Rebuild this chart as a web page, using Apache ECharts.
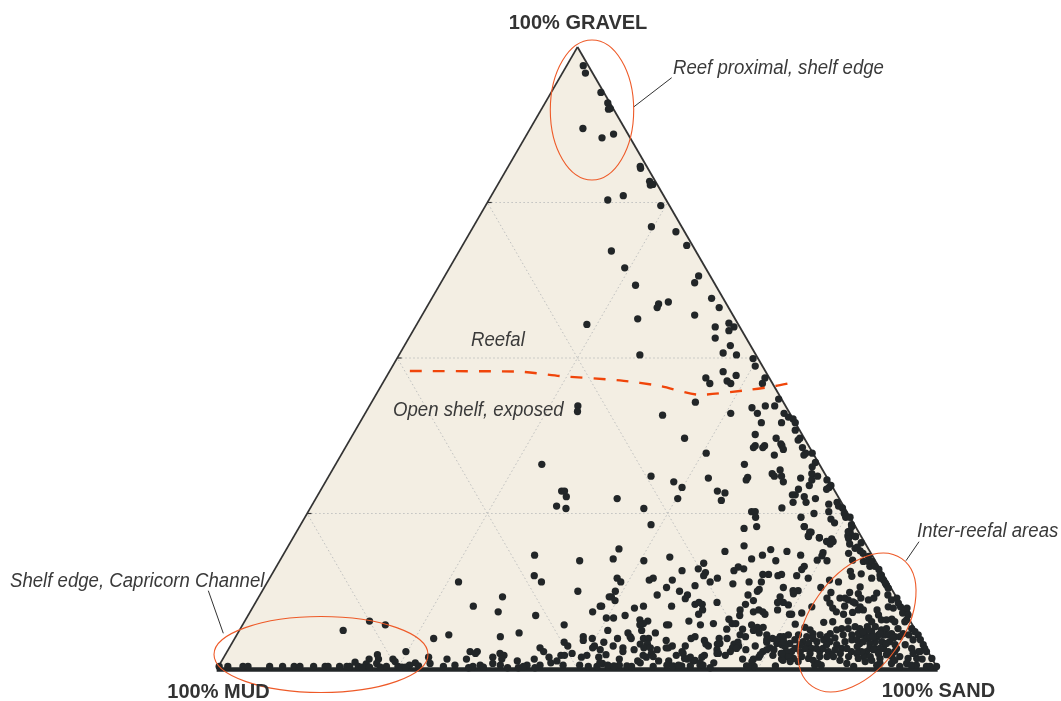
<!DOCTYPE html>
<html>
<head>
<meta charset="utf-8">
<style>html,body{margin:0;padding:0;background:#fff}#chart{width:1061px;height:701px}</style>
<script src="https://cdn.jsdelivr.net/npm/echarts@6/dist/echarts.min.js"></script>
</head>
<body>
<div id="chart"></div>
<script>
// Each sample is [gravel %, sand %]; mud % is the remainder.
const upperSamples = [[97.0,2.3],[95.8,3.2],[92.7,6.9],[91.0,8.7],[90.0,9.3],[90.1,9.5],[86.9,7.3],[85.4,10.7],[86.0,12.0],[80.8,18.3],[80.5,18.5],[78.4,20.8],[77.8,21.2],[77.9,21.5],[76.1,18.3],[75.4,16.5],[74.5,24.3],[71.1,24.7],[70.3,28.5],[68.1,31.1],[67.2,21.1],[64.5,24.3],[63.2,35.2],[62.1,35.2],[61.7,27.2],[59.6,38.8],[59.0,33.1],[58.7,31.9],[58.1,32.0],[58.1,40.6],[56.9,37.8],[56.3,30.2],[55.6,43.2],[55.4,23.6],[55.0,41.6],[55.0,44.2],[54.4,43.8],[53.2,42.5],[52.0,45.2],[50.8,44.8],[50.5,46.8],[50.5,33.4],[49.9,49.4],[48.7,50.3],[47.8,46.3],[47.2,48.4],[46.8,44.4],[46.8,52.6],[45.9,45.4],[46.3,47.6],[45.9,48.3],[45.9,52.7]];
const middleSamples = [[43.4,56.2],[42.9,44.9],[40.8,41.4],[42.3,28.9],[41.4,29.3],[41.1,50.7],[42.0,53.2],[41.1,54.4],[39.6,55.7],[42.3,54.9],[42.3,56.2],[39.6,58.5],[41.1,58.1],[40.5,59.0],[40.2,59.8],[39.6,60.4],[38.4,61.0],[37.7,55.8],[37.1,59.0],[37.1,62.3],[36.8,62.2],[37.1,46.3],[36.2,60.1],[35.9,60.4],[35.3,60.9],[35.6,63.4],[35.9,56.7],[35.6,56.6],[35.9,58.0],[35.6,57.9],[34.4,60.1],[34.7,50.5],[34.7,65.2],[34.7,64.3],[34.4,64.2],[32.9,56.7],[33.2,66.4],[32.5,66.3],[32.0,62.1],[31.4,66.8],[31.0,67.8],[31.4,61.3],[31.0,61.8],[31.0,62.8],[30.7,65.6],[30.4,67.3],[30.8,58.2],[30.4,58.2],[30.7,52.8],[30.1,48.3],[30.1,63.5],[30.4,69.4],[29.5,67.4],[29.5,70.4],[29.2,70.3],[28.9,70.1],[29.2,49.9],[28.9,66.2],[28.6,55.1],[28.3,56.3],[28.0,66.2],[28.0,65.8],[27.7,67.6],[27.4,69.3],[27.4,50.2],[27.1,56.4],[26.8,66.5],[26.8,68.3],[26.5,71.6],[26.8,72.6],[26.2,73.1],[25.9,73.8],[25.9,65.4],[25.3,61.5],[25.3,62.0],[25.3,72.2],[25.0,70.3],[25.0,74.5],[24.4,75.0],[24.4,75.6],[24.4,62.5],[24.4,68.8],[24.1,73.1],[23.5,73.9],[23.2,76.4],[22.9,70.0],[22.9,63.4],[22.6,61.8],[22.2,76.7],[22.0,71.2],[21.4,71.3],[21.1,73.0],[21.4,76.8],[21.5,77.2],[21.3,77.9],[20.9,74.8],[31.0,44.7],[32.9,28.6],[28.6,33.5],[28.6,33.9],[27.7,34.6],[26.2,34.0],[25.8,35.5],[27.4,41.8],[25.8,46.3],[23.2,48.6],[19.3,46.1]];
const lowerMudSamples = [[18.3,34.9],[17.4,41.6],[14.0,26.5],[15.0,36.5],[14.0,38.0],[12.5,43.8],[11.6,33.8],[10.1,30.5],[9.2,34.4],[10.1,48.1],[9.2,47.5],[8.6,39.9],[8.2,49.9],[11.6,48.6],[7.1,44.6],[6.2,51.1],[5.8,39.0],[5.5,29.4],[4.9,27.6],[5.2,36.7],[5.2,48.2],[4.6,48.5],[4.9,49.6],[4.3,51.5],[4.3,46.0],[3.7,46.8],[3.4,43.1],[2.8,43.9],[3.7,50.5],[3.4,50.4],[3.1,51.6],[2.8,33.7],[2.8,34.7],[2.5,34.6],[2.5,38.0],[2.2,38.7],[2.5,48.0],[2.2,46.6],[2.2,47.1],[2.2,50.2],[1.9,49.6],[1.9,52.0],[2.3,52.8],[1.9,28.4],[1.6,31.1],[1.6,33.8],[1.9,37.3],[1.6,38.7],[1.9,45.1],[1.3,41.0],[1.6,43.2],[1.3,46.5],[1.0,45.8],[0.9,29.1],[0.6,32.7],[0.9,37.8],[0.6,39.0],[0.6,42.7],[0.6,44.5],[0.6,47.7],[0.6,50.0],[0.9,53.0],[0.4,31.2],[0.2,34.8],[0.4,35.3],[0.6,36.2],[0.3,36.8],[0.2,40.2],[0.2,41.7],[0.4,42.3],[0.2,44.0],[0.4,51.3],[0.4,52.5],[0.5,54.0]];
const lowerSandSamples = [[17.7,46.1],[17.4,50.5],[18.0,53.8],[18.9,61.0],[19.8,63.2],[19.2,67.2],[18.3,66.5],[18.9,69.6],[17.7,65.3],[17.4,68.8],[17.0,59.0],[16.4,64.1],[15.8,63.8],[16.1,65.0],[16.1,58.7],[15.8,56.6],[15.5,60.0],[15.0,60.0],[15.2,68.1],[15.2,68.9],[15.2,70.7],[15.0,70.3],[14.6,62.1],[14.6,48.2],[14.6,53.2],[14.3,52.8],[14.3,56.0],[14.0,49.0],[14.0,61.4],[13.7,64.7],[14.0,66.8],[14.0,68.5],[13.4,59.6],[13.1,55.8],[13.1,72.0],[12.5,49.0],[12.5,57.9],[12.8,68.8],[12.5,68.7],[11.9,67.7],[11.9,59.3],[11.9,55.1],[11.6,48.9],[11.3,59.3],[11.6,72.3],[11.0,49.7],[11.0,68.9],[10.7,72.4],[10.7,73.2],[10.4,61.1],[10.7,61.5],[10.4,62.1],[10.7,64.0],[10.4,68.1],[10.1,48.3],[10.1,54.1],[9.8,53.0],[10.1,58.0],[9.5,67.8],[9.5,73.0],[9.5,62.6],[8.8,62.4],[9.2,69.8],[9.5,70.4],[9.2,71.1],[8.8,71.6],[8.6,68.2],[8.8,75.0],[8.6,52.3],[8.2,50.9],[7.9,54.7],[7.7,55.9],[7.7,61.6],[8.0,67.0],[7.3,67.8],[7.3,68.3],[7.3,55.5],[7.1,55.1],[7.3,65.2],[7.1,58.8],[7.1,59.1],[7.1,63.5],[7.1,70.6],[6.7,71.6],[6.7,72.4],[6.4,67.5],[6.4,69.7],[6.2,71.3],[5.8,72.3],[6.2,55.8],[5.8,57.9],[5.8,54.1],[5.5,69.8],[5.2,70.7],[5.5,73.5],[5.2,54.7],[4.9,55.0],[4.9,53.1],[4.9,56.7],[4.9,57.4],[5.2,63.7],[4.9,63.3],[4.9,68.3],[4.9,67.2],[4.9,74.6],[5.2,75.5],[4.6,60.0],[4.6,65.3],[4.0,56.7],[4.0,57.7],[3.7,61.3],[3.4,60.9],[3.7,63.1],[4.0,65.8],[3.7,66.3],[4.0,67.4],[4.3,70.1],[4.0,69.7],[3.4,69.8],[3.7,72.8],[4.3,74.1],[3.4,75.0],[4.3,76.0],[3.7,53.1],[3.4,54.6],[3.1,56.3],[3.4,57.5],[3.4,58.4],[3.1,59.5],[3.4,60.6],[2.8,63.1],[3.1,67.8],[3.1,71.8],[3.7,70.5],[2.8,54.9],[2.5,59.0],[2.2,62.6],[2.5,63.4],[2.2,66.5],[2.5,68.1],[2.2,69.4],[2.8,69.8],[2.8,74.3],[1.9,74.2],[3.1,75.7],[2.5,77.0],[1.9,58.6],[1.6,55.0],[1.3,60.6],[1.6,64.4],[1.9,66.3],[1.6,72.1],[1.6,73.6],[1.6,77.5],[1.3,57.7],[1.0,58.2],[1.0,68.4],[1.3,62.0],[1.3,65.4],[1.0,52.6],[0.6,53.9],[0.6,55.5],[0.5,56.6],[0.6,62.1],[0.5,63.0],[0.5,64.2],[0.5,65.4],[0.6,66.7],[0.2,68.3],[0.5,73.2],[0.4,74.3],[0.5,77.2],[0.4,60.3],[0.4,57.3],[0.5,54.8],[1.9,64.7],[1.4,65.6],[1.0,66.5],[1.7,64.0],[0.6,67.1],[4.7,73.9],[4.1,75.6],[4.7,75.3],[3.9,76.4],[3.1,74.7],[2.2,76.0],[2.5,77.5],[4.1,67.7],[2.5,68.3],[3.3,70.4],[2.0,59.5],[2.2,58.0],[2.3,74.2],[1.2,73.6],[0.4,73.5],[2.0,78.0],[0.6,63.7]];
const interReefalSamples = [[22.9,70.0],[22.0,71.4],[21.3,71.4],[21.1,73.0],[20.5,74.3],[20.5,75.2],[20.1,75.0],[21.0,77.1],[20.1,77.7],[20.3,79.2],[19.4,78.8],[19.0,79.7],[18.6,80.3],[18.6,78.3],[18.3,71.8],[18.7,74.7],[18.2,74.8],[17.5,74.5],[17.4,75.9],[16.5,73.2],[16.0,73.1],[17.5,79.4],[17.3,81.0],[17.3,81.7],[16.5,82.3],[15.7,80.0],[14.9,80.6],[15.3,81.7],[16.0,83.8],[15.1,84.6],[14.6,84.7],[14.6,83.5],[14.0,79.2],[14.3,77.8],[14.6,74.7],[15.0,72.9],[13.1,77.2],[12.6,73.6],[12.6,74.3],[12.1,73.9],[10.3,74.1],[12.3,79.0],[11.4,78.9],[10.6,79.7],[9.8,80.5],[9.2,81.3],[11.4,80.7],[11.4,81.4],[12.3,81.6],[11.1,82.0],[10.8,82.8],[13.2,82.6],[12.1,82.9],[11.4,83.6],[10.6,83.2],[10.0,84.2],[9.5,84.2],[9.1,83.6],[10.1,82.0],[11.1,84.8],[12.2,85.4],[11.4,85.4],[11.9,87.1],[11.1,88.0],[11.4,88.6],[10.0,89.8],[10.0,88.1],[10.0,77.5],[9.0,76.6],[8.8,75.3],[8.8,82.5],[9.5,86.8],[8.7,87.4],[8.0,89.6],[8.2,86.3],[7.6,87.0],[7.5,80.4],[7.6,81.6],[7.7,83.7],[7.2,76.6],[6.7,78.2],[6.5,83.4],[6.3,82.8],[5.7,82.2],[6.8,85.1],[6.5,85.9],[5.5,85.3],[6.8,86.8],[5.5,87.1],[6.0,87.8],[6.3,89.0],[6.5,89.6],[5.7,90.7],[5.5,89.9],[5.2,88.9],[5.2,92.1],[7.6,91.6],[6.5,93.1],[5.5,94.5],[3.9,96.0],[2.8,97.0],[1.7,98.3],[0.4,99.6],[9.0,91.2],[5.7,79.8],[5.2,79.2],[4.9,80.2],[4.4,79.1],[4.1,80.0],[4.4,81.0],[4.7,81.8],[4.4,82.8],[3.9,84.0],[4.4,84.9],[4.7,85.7],[4.1,87.1],[4.9,87.6],[4.4,89.1],[4.4,90.0],[4.4,91.1],[3.9,92.1],[5.7,92.3],[4.1,77.4],[3.6,77.0],[2.8,78.3],[2.8,79.5],[3.3,80.8],[2.8,82.2],[2.8,83.4],[3.3,85.0],[2.0,84.5],[2.8,86.6],[2.0,86.6],[2.8,88.7],[3.3,89.6],[3.3,90.8],[2.8,92.6],[3.3,94.7],[2.0,93.7],[1.7,95.0],[1.7,96.2],[1.6,97.0],[0.4,98.2],[1.4,77.8],[1.7,79.1],[1.7,81.2],[0.6,82.6],[0.6,83.5],[2.0,82.6],[2.3,84.1],[2.0,88.7],[2.0,89.6],[1.7,91.1],[2.3,91.7],[0.6,91.2],[0.4,88.1],[0.4,94.5],[0.4,98.7],[5.5,86.5],[4.4,87.4],[4.1,88.5],[5.5,89.0],[5.5,89.7],[3.3,90.3],[3.3,88.9],[2.8,88.0],[2.5,87.5],[2.5,85.2],[3.3,82.4],[3.3,81.5],[3.3,79.9],[3.9,78.9],[3.3,78.5],[2.8,77.6],[2.5,77.1],[2.0,78.3],[2.5,81.0],[3.9,82.6],[3.1,84.2],[3.3,85.7],[5.2,91.4],[4.1,90.8],[5.2,88.0],[6.3,87.2],[6.8,87.9],[5.7,89.1],[3.3,92.6],[2.0,92.6],[13.5,86.1],[14.3,85.3],[7.9,91.7],[6.0,93.8],[4.7,95.2],[3.3,96.5],[2.5,95.3],[2.8,95.9]];
const interReefalDense = [[5.2,76.0],[5.5,76.5],[4.7,77.8],[4.4,76.4],[5.5,77.9],[6.3,79.1],[5.5,80.9],[5.2,82.0],[5.0,83.2],[5.5,84.1],[6.5,84.3],[5.7,86.1],[4.7,86.4],[6.0,86.6],[5.2,88.4],[3.1,89.5],[2.5,90.5],[5.5,90.4],[5.0,91.3],[2.8,91.7],[1.4,90.1],[1.2,89.3],[1.7,88.1],[3.6,87.0],[1.4,85.7],[2.0,83.6],[1.4,82.0],[2.0,80.1],[1.2,80.0],[1.2,78.9],[0.9,82.9],[0.9,86.9],[0.9,91.5],[0.9,93.1],[0.9,95.2],[0.6,96.7],[0.6,96.0],[1.4,93.3],[2.8,96.1],[7.9,88.2],[7.9,88.9],[7.6,90.2],[6.5,91.2],[5.5,93.2],[4.7,94.2],[3.9,93.5],[9.8,88.9],[9.0,90.6],[9.5,84.9],[22.1,76.5],[22.9,76.6],[21.3,77.9],[18.1,81.3],[17.3,82.2],[16.5,83.0],[15.1,84.4],[13.8,85.8],[13.0,86.6],[10.6,89.2],[9.8,90.8],[8.7,91.5],[19.6,79.0]];
const channelSamples = [[6.2,14.4],[7.7,17.3],[7.1,19.8],[2.8,24.8],[2.3,21.1],[1.6,21.6],[1.6,20.3],[1.6,23.6],[1.2,24.1],[1.1,18.6],[0.8,20.3],[0.9,21.7],[1.0,27.0],[0.6,26.4],[0.5,27.7],[0.4,0.1],[0.4,1.3],[0.4,3.4],[0.4,4.1],[0.4,7.1],[0.4,8.9],[0.4,10.5],[0.4,11.3],[0.4,13.2],[0.4,14.8],[0.4,15.2],[0.4,16.8],[0.4,17.8],[0.4,18.2],[0.4,19.4],[0.4,23.3],[0.4,24.9],[0.3,20.0],[0.3,21.0],[0.3,22.5],[0.3,25.5],[0.3,26.0]];
const boundaryLine = [[47.9,2.8],[47.8,18.1],[47.1,24.0],[46.4,32.7],[45.5,38.7],[44.1,44.9],[44.9,51.5],[45.5,54.7],[46.1,56.9]];
const gridLevels = [25, 50, 75];
const cornerLabels = ['100% GRAVEL', '100% MUD', '100% SAND'];

// Ternary composition to chart axes: horizontal = sand + gravel / 2, vertical = gravel.
const toXY = (gravel, sand) => [sand + gravel / 2, gravel];
const allSamples = [].concat(upperSamples, middleSamples, lowerMudSamples, lowerSandSamples, interReefalSamples, interReefalDense, channelSamples);

const gridData = [];
gridLevels.forEach(v => {
  gridData.push([toXY(v, 0), toXY(v, 100 - v)]);       // constant gravel
  gridData.push([toXY(0, v), toXY(100 - v, v)]);       // constant sand
  gridData.push([toXY(0, 100 - v), toXY(100 - v, 0)]); // constant mud
});
const tickData = gridLevels.map(v => [toXY(v, 0), toXY(v, 0.6)]);

const note = (text, x, y) => ({type:'text', x, y, z:20, scaleX:0.93, style:{text, fill:'#3a3a3a', font:'italic 20px "Liberation Sans"', textVerticalAlign:'middle'}});
const corner = (text, x, y) => ({type:'text', x, y, z:20, style:{text, fill:'#333', font:'bold 20px "Liberation Sans"', textAlign:'center', textVerticalAlign:'middle'}});
const leader = (x1, y1, x2, y2) => ({type:'line', z:20, shape:{x1, y1, x2, y2}, style:{stroke:'#333', lineWidth:1}});

function segSeries(name, data, style) {
  return {
    name, type:'custom', coordinateSystem:'cartesian2d', silent:true, clip:false, z:style.z,
    data: data.map((d, i) => [i]),
    encode: {x: 0, y: 0},
    renderItem: (p, api) => {
      const d = data[api.value(0)];
      const a = api.coord(d[0]), b = api.coord(d[1]);
      return {type:'line', shape:{x1:a[0], y1:a[1], x2:b[0], y2:b[1]}, style:{stroke:style.stroke, lineWidth:style.width, lineDash:style.dash || null}};
    }
  };
}
const ellipses = [
  {c:[592,110], rx:41.7, ry:70, rot:0},
  {c:[321,654.5], rx:107, ry:38, rot:0},
  {c:[857,622.5], rx:78, ry:47, rot:55}
];

const option = {
  animation:false,
  backgroundColor:'#fff',
  grid:{left:217, right:123, top:47, bottom:32},
  xAxis:{type:'value', min:0, max:100, show:false},
  yAxis:{type:'value', min:0, max:100, show:false},
  series:[
    {name:'field', type:'custom', coordinateSystem:'cartesian2d', silent:true, z:1, clip:false,
     data:[[0]], encode:{x:0,y:0},
     renderItem:(p, api) => ({type:'polygon',
       shape:{points:[api.coord(toXY(100,0)), api.coord(toXY(0,0)), api.coord(toXY(0,100))]},
       style:{fill:'#F3EEE3'}})},
    segSeries('grid', gridData, {stroke:'#bfc0bf', width:1, dash:[1.5,2.5], z:2}),
    segSeries('left edge', [[toXY(0,0), toXY(100,0)]], {stroke:'#333', width:1.6, z:3}),
    segSeries('right edge', [[toXY(100,0), toXY(0,100)]], {stroke:'#333', width:1.8, z:3}),
    segSeries('base', [[toXY(-0.1,0), toXY(-0.1,100)]], {stroke:'#222628', width:4.5, z:3}),
    segSeries('ticks', tickData, {stroke:'#333', width:1.2, z:3}),
    {name:'samples', type:'scatter', symbol:'circle', symbolSize:7.3, clip:false, silent:true, z:5,
     itemStyle:{color:'#222628', opacity:1},
     data: allSamples.map(s => toXY(s[0], s[1]))},
    {name:'Reefal boundary', type:'line', smooth:0.25, showSymbol:false, symbol:'none', clip:false, silent:true, z:6,
     lineStyle:{color:'#F0450A', width:2.4, type:[12,11]},
     data: boundaryLine.map(s => toXY(s[0], s[1]))}
  ],
  graphic:[
    corner(cornerLabels[0], 578, 23),
    corner(cornerLabels[1], 218.5, 692),
    corner(cornerLabels[2], 938.5, 691),
    note('Reef proximal, shelf edge', 673, 68),
    note('Reefal', 471, 340),
    note('Open shelf, exposed', 393, 410),
    note('Inter-reefal areas', 917, 531),
    note('Shelf edge, Capricorn Channel', 10, 581),
    leader(634, 106.7, 671.7, 77.7),
    leader(906, 560.7, 919, 541.7),
    leader(208.3, 590.7, 223.3, 633.3)
  ].concat(ellipses.map(e => ({type:'ellipse', z:15, x:e.c[0], y:e.c[1], rotation:e.rot*Math.PI/180,
     shape:{cx:0, cy:0, rx:e.rx, ry:e.ry}, style:{fill:null, stroke:'#EE5A28', lineWidth:1.1}})))
};
echarts.init(document.getElementById('chart'), null, {renderer:'canvas'}).setOption(option);
</script>
</body>
</html>
